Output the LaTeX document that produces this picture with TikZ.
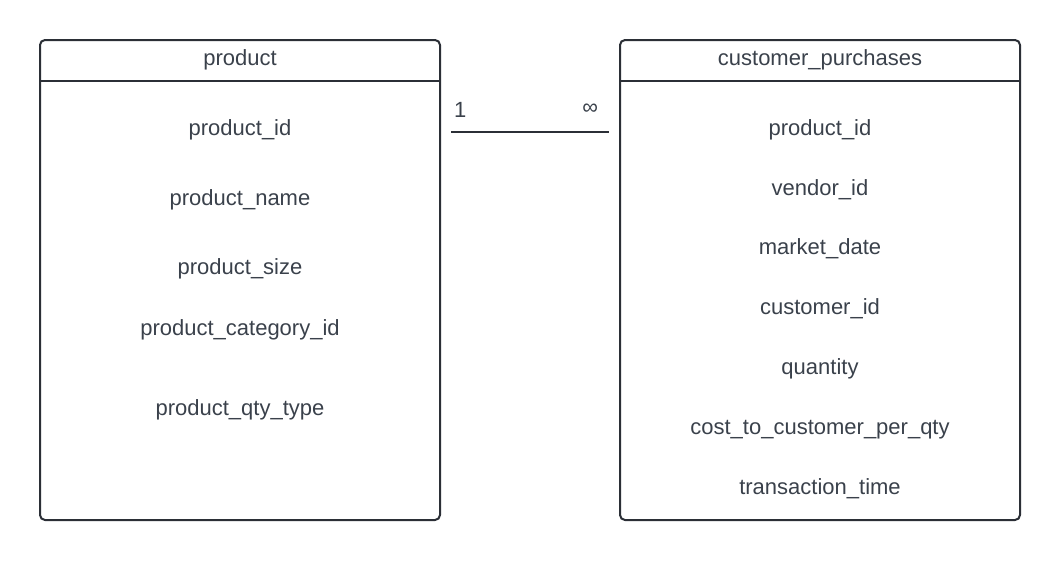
\documentclass[tikz,border=0pt]{standalone}
\usepackage{fontspec}
\setmainfont{Liberation Sans}
\usetikzlibrary{positioning}

\definecolor{edgegray}{HTML}{2B2F36}
\definecolor{textgray}{HTML}{3A414B}

\begin{document}
\begin{tikzpicture}[
        x=1pt, y=1pt,
        node distance=40.5pt,
        tbl/.style={rectangle, draw=edgegray, line width=2pt, rounded corners=5pt, minimum width=400pt, minimum height=480pt, inner sep=0pt},
        head/.style={rectangle, minimum width=400pt, minimum height=42pt, inner sep=0pt, font=\fontsize{22}{26}\selectfont, text=textgray},
        field/.style={inner sep=0pt, text height=15pt, text depth=4pt, font=\fontsize{22}{26}\selectfont, text=textgray},
        sep/.style={draw=edgegray, line width=2pt},
        link/.style={draw=edgegray, line width=2pt},
        card/.style={inner sep=0pt, font=\fontsize{22}{26}\selectfont, text=textgray}
    ]
        \useasboundingbox (0,0) rectangle (1060,-560);

        % product table
        \node[tbl] (prodbox) at (240,-280) {};
        \node[head, below=0pt of prodbox.north] (prodhead) {product};
        \draw[sep] (prodhead.south west) -- (prodhead.south east);
        \node[field, below=38.5pt of prodhead] (pid) {product\_id};
        \node[field, below=51pt of pid] (pname) {product\_name};
        \node[field, below=50pt of pname] (psize) {product\_size};
        \node[field, below=41pt of psize] (pcat) {product\_category\_id};
        \node[field, below=60.5pt of pcat] (pqty) {product\_qty\_type};

        % customer_purchases table
        \node[tbl] (purchbox) at (820,-280) {};
        \node[head, below=0pt of purchbox.north] (purchhead) {customer\_purchases};
        \draw[sep] (purchhead.south west) -- (purchhead.south east);
        \node[field, below=38.5pt of purchhead] (cpid) {product\_id};
        \node[field, below=of cpid] (cvid) {vendor\_id};
        \node[field, below=of cvid] (cdate) {market\_date};
        \node[field, below=of cdate] (ccust) {customer\_id};
        \node[field, below=of ccust] (cqty) {quantity};
        \node[field, below=of cqty] (ccost) {cost\_to\_customer\_per\_qty};
        \node[field, below=of ccost] (ctime) {transaction\_time};

        % one-to-many link
        \draw[link, shorten <=10pt, shorten >=10pt] ([yshift=-2pt]prodbox.east |- pid) -- ([yshift=-2pt]purchbox.west |- cpid)
            node[card, pos=0, above right=13pt and 12pt] (one) {1}
            node[card, pos=1, above left=16pt and 20pt] (many) {∞};
    \end{tikzpicture}
\end{document}
